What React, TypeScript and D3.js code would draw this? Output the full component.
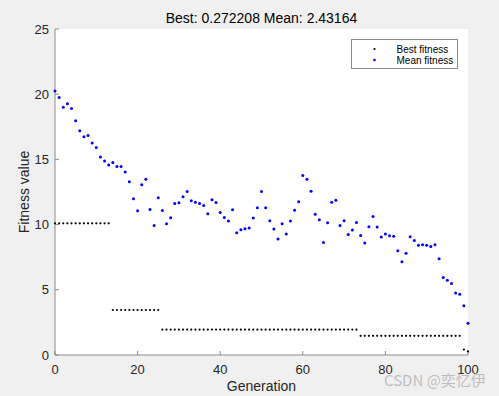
import React from "react";
import * as d3 from "d3";

const generations: number[] = d3.range(0, 101);

const bestFitness: number[] = [
  10.1, 10.1, 10.1, 10.1, 10.1, 10.1, 10.1, 10.1, 10.1, 10.1, 10.1, 10.1, 10.1, 10.1,
  3.45, 3.45, 3.45, 3.45, 3.45, 3.45, 3.45, 3.45, 3.45, 3.45, 3.45, 3.45,
  1.95, 1.95, 1.95, 1.95, 1.95, 1.95, 1.95, 1.95, 1.95, 1.95, 1.95, 1.95,
  1.95, 1.95, 1.95, 1.95, 1.95, 1.95, 1.95, 1.95, 1.95, 1.95, 1.95, 1.95,
  1.95, 1.95, 1.95, 1.95, 1.95, 1.95, 1.95, 1.95, 1.95, 1.95, 1.95, 1.95,
  1.95, 1.95, 1.95, 1.95, 1.95, 1.95, 1.95, 1.95, 1.95, 1.95, 1.95, 1.95,
  1.47, 1.47, 1.47, 1.47, 1.47, 1.47, 1.47, 1.47, 1.47, 1.47, 1.47, 1.47, 1.47,
  1.47, 1.47, 1.47, 1.47, 1.47, 1.47, 1.47, 1.47, 1.47, 1.47, 1.47, 1.47,
  0.42, 0.272208,
];

const meanFitness: number[] = [
  20.24, 19.75, 19.0, 19.27, 18.9, 17.97, 17.2, 16.74, 16.84, 16.26,
  15.92, 15.19, 14.88, 14.58, 14.76, 14.45, 14.45, 14.04, 13.28, 11.98,
  11.06, 13.05, 13.48, 11.16, 9.94, 12.06, 11.09, 10.07, 10.53, 11.62,
  11.67, 12.13, 12.54, 11.83, 11.72, 11.62, 11.47, 10.83, 11.9, 11.7,
  10.93, 10.55, 10.27, 11.14, 9.38, 9.61, 9.69, 9.73, 10.5, 11.29,
  12.54, 11.29, 10.3, 9.66, 8.89, 10.07, 9.27, 10.27, 11.11, 11.75,
  13.76, 13.48, 12.56, 10.8, 10.37, 8.62, 10.14, 11.72, 11.87, 9.94,
  10.3, 9.25, 9.58, 10.17, 9.17, 8.59, 9.84, 10.63, 9.81, 9.05,
  9.27, 9.15, 9.1, 8.0, 7.16, 7.8, 9.07, 8.79, 8.41, 8.46,
  8.41, 8.33, 8.46, 7.39, 5.94, 5.73, 5.48, 4.76, 4.66, 3.77,
  2.43164,
];

const xTicks: number[] = [0, 20, 40, 60, 80, 100];
const yTicks: number[] = [0, 5, 10, 15, 20, 25];
const legendLabels: string[] = ["Best fitness", "Mean fitness"];
const titleText = "Best: 0.272208 Mean: 2.43164";
const xLabel = "Generation";
const yLabel = "Fitness value";
const watermark = "CSDN @奕忆伊";

const W = 499;
const H = 396;
const FONT = "'Liberation Sans', Arial, Helvetica, sans-serif";
const TEXT = "#262626";
const AXIS = "#8c8c8c";

export default function App() {
  const x = d3.scaleLinear().domain([0, 100]).range([55, 468]);
  const y = d3.scaleLinear().domain([0, 25]).range([355, 29]);
  const [x0, x1] = x.range();
  const [y0, y1] = y.range();

  return (
    <svg
      width={W}
      height={H}
      style={{ position: "absolute", left: 0, top: 0, display: "block" }}
      fontFamily={FONT}
    >
      <rect x={0} y={0} width={W} height={H} fill="#f0f0f0" />
      <rect x={x0} y={y1} width={x1 - x0} height={y0 - y1} fill="#ffffff" />

      {/* axes */}
      <line x1={x0} y1={y0} x2={x1} y2={y0} stroke={AXIS} strokeWidth={1} />
      <line x1={x0} y1={y0} x2={x0} y2={y1} stroke={AXIS} strokeWidth={1} />
      {xTicks.map((t) => (
        <g key={"xt" + t}>
          <line x1={x(t)} x2={x(t)} y1={y0} y2={y0 - 4} stroke={AXIS} />
          <text x={x(t)} y={y0 + 18.5} fontSize={13} textAnchor="middle" fill={TEXT}>
            {t}
          </text>
        </g>
      ))}
      {yTicks.map((t) => (
        <g key={"yt" + t}>
          <line x1={x0} x2={x0 + 4} y1={y(t)} y2={y(t)} stroke={AXIS} />
          <text x={x0 - 6} y={y(t) + 4.5} fontSize={13} textAnchor="end" fill={TEXT}>
            {t}
          </text>
        </g>
      ))}

      {/* data */}
      {generations.map((g, i) => (
        <circle key={"b" + g} cx={x(g)} cy={y(bestFitness[i])} r={1.1} fill="#000000" />
      ))}
      {generations.map((g, i) => (
        <circle key={"m" + g} cx={x(g)} cy={y(meanFitness[i])} r={1.5} fill="#0000ff" />
      ))}

      {/* title & labels */}
      <text x={(x0 + x1) / 2} y={22.5} fontSize={14} textAnchor="middle" fill="#000">
        {titleText}
      </text>
      <text x={(x0 + x1) / 2} y={391} fontSize={14} textAnchor="middle" fill={TEXT}>
        {xLabel}
      </text>
      <text
        transform={`translate(29,${(y0 + y1) / 2}) rotate(-90)`}
        fontSize={14}
        textAnchor="middle"
        fill={TEXT}
      >
        {yLabel}
      </text>

      {/* legend */}
      <rect x={351.5} y={39.5} width={106} height={29} fill="#ffffff" stroke="#8c8c8c" strokeWidth={1} />
      {legendLabels.map((lab, i) => (
        <g key={lab}>
          <circle cx={374.5} cy={49 + i * 11} r={i === 0 ? 1.1 : 1.3} fill={i === 0 ? "#000" : "#0000ff"} />
          <text x={396.5} y={52.5 + i * 11} fontSize={10} fill="#000">
            {lab}
          </text>
        </g>
      ))}

      {/* watermark */}
      <text x={384} y={386} fontSize={15} fill="#b4b4b4" fillOpacity={0.85} fontFamily="'Noto Sans CJK SC', 'Liberation Sans', sans-serif">
        {watermark}
      </text>
    </svg>
  );
}
